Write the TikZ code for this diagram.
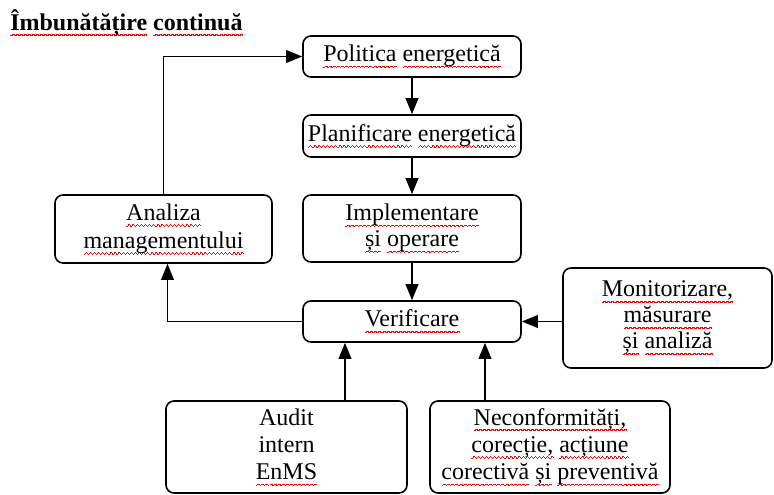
\documentclass[tikz,border=0pt]{standalone}
\usepackage{fontspec}
\setmainfont{Liberation Serif}
\usetikzlibrary{arrows.meta,calc}
\newsavebox\wavebox
\newsavebox\sqtmp
\newcommand\sq[1]{\sbox\sqtmp{#1}\hbox{\rlap{\lower3.8pt\hbox to\wd\sqtmp{\xleaders\copy\wavebox\hfill}}\usebox\sqtmp}}
\begin{document}
\sbox\wavebox{\textcolor{red}{\rule[-0.7pt]{1.0pt}{0.6pt}\rule[-0.4pt]{0.5pt}{1.0pt}\rule[0.3pt]{1.0pt}{0.6pt}\rule[-0.4pt]{0.5pt}{1.0pt}}}%
\begin{tikzpicture}[x=0.75pt,y=-0.75pt,
  box/.style={draw, line width=1.2pt, rounded corners=6pt, align=center, inner sep=0pt,
    font=\fontsize{18}{19.5}\selectfont},
  tallbox/.style={box, font=\fontsize{18}{20.5}\selectfont},
  arr/.style={line width=1.2pt, -{Triangle[length=12pt,width=9.5pt]}}]
\useasboundingbox (0,0) rectangle (774,494);
\node[anchor=base west, font=\fontsize{18}{20}\selectfont\bfseries, inner sep=0pt] (title) at (10,30)
  {\sq{Îmbunătățire} \sq{continuă}};
\node[box, minimum width=163.5pt, minimum height=30.75pt] (pol) at (412,56.5)
  {\sq{Politica} \sq{energetică}};
\node[box, minimum width=163.5pt, minimum height=31.5pt] (plan) at (412,136)
  {\sq{Planificare} \sq{energetică}};
\node[box, minimum width=163.5pt, minimum height=50.25pt] (impl) at (412,228.5)
  {\sq{Implementare}\\\sq{și} \sq{operare}};
\node[box, minimum width=163.5pt, minimum height=30.75pt] (ver) at (412,321.5)
  {\sq{Verificare}};
\node[box, minimum width=162.75pt, minimum height=51pt, font=\fontsize{18}{21}\selectfont] (anal) at (163.5,229)
  {\sq{Analiza}\\\sq{managementului}};
\node[box, minimum width=156.75pt, minimum height=75pt] (mon) at (667.5,318)
  {\sq{Monitorizare,}\\\sq{măsurare}\\\sq{și} \sq{analiză}};
\node[tallbox, minimum width=180.75pt, minimum height=69pt] (audit) at (286.5,447)
  {Audit\\intern\\\sq{EnMS}};
\node[tallbox, minimum width=180pt, minimum height=69pt] (necon) at (550,447)
  {\sq{Neconformități,}\\\sq{corecție,} \sq{acțiune}\\\sq{corectivă} \sq{și} \sq{preventivă}};
\coordinate (ca) at (345,0);
\coordinate (cn) at (485,0);
\draw[arr] (pol.south) -- (plan.north);
\draw[arr] (plan.south) -- (impl.north);
\draw[arr] (impl.south) -- (ver.north);
\draw[arr] (ver.west) -| ([xshift=3pt]anal.south);
\draw[arr] (anal.north) |- (pol.west);
\draw[arr] (mon.west |- ver.east) -- (ver.east);
\draw[arr] (audit.north -| ca) -- (ver.south -| ca);
\draw[arr] (necon.north -| cn) -- (ver.south -| cn);
\end{tikzpicture}
\end{document}
